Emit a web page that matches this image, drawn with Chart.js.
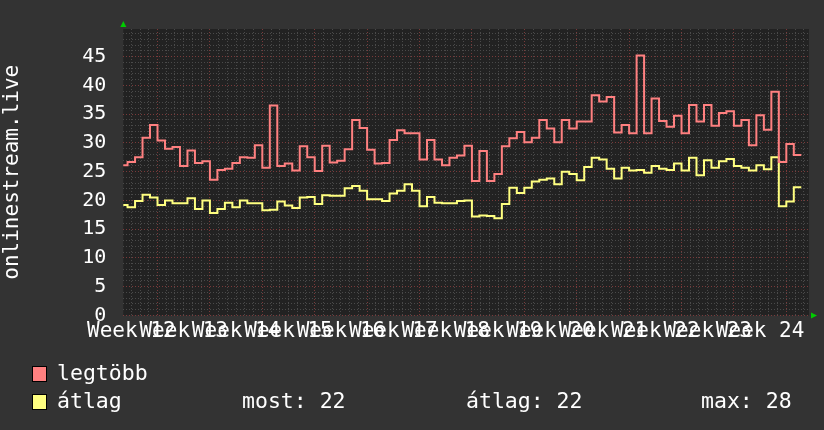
<!DOCTYPE html>
<html>
<head>
<meta charset="utf-8">
<script src="https://cdn.jsdelivr.net/npm/chart.js@4"></script>
<style>
  html, body { margin: 0; padding: 0; background: #333333; }
  canvas { display: block; }
</style>
</head>
<body>
<canvas id="streamChart" width="824" height="430"></canvas>
<script>
// week labels along the x axis (Week 12 starts at day 0)
const weeks = [12, 13, 14, 15, 16, 17, 18, 19, 20, 21, 22, 23, 24];
const firstDay = 2; // day index of the first value below

// daily values
const maxValues = [
  26.1, 26.7, 27.5, 30.9, 33.1, 30.4, 29.0, 29.3, 26.0, 28.7, 26.5, 26.8,
  23.6, 25.3, 25.5, 26.5, 27.5, 27.4, 29.6, 25.7, 36.5, 26.0, 26.4, 25.2,
  29.4, 27.5, 25.1, 29.5, 26.6, 26.9, 28.9, 34.0, 32.6, 28.8, 26.4, 26.5,
  30.5, 32.2, 31.7, 31.7, 27.1, 30.5, 27.1, 26.1, 27.4, 27.8, 29.5, 23.4,
  28.6, 23.4, 24.6, 29.4, 30.8, 31.9, 30.1, 30.9, 34.0, 32.5, 30.1, 34.0,
  32.5, 33.7, 33.7, 38.3, 37.2, 38.0, 31.8, 33.1, 31.7, 45.2, 31.7, 37.7,
  33.8, 32.8, 34.7, 31.7, 36.6, 33.7, 36.6, 33.0, 35.2, 35.5, 33.0, 34.0,
  29.6, 34.8, 32.3, 38.9, 26.7, 29.8, 27.9
];
const avgValues = [
  19.2, 18.8, 19.9, 21.0, 20.5, 19.2, 20.0, 19.5, 19.5, 20.4, 18.5, 20.0,
  17.8, 18.5, 19.6, 18.8, 20.0, 19.5, 19.5, 18.3, 18.4, 19.8, 19.1, 18.7,
  20.5, 20.6, 19.4, 20.9, 20.8, 20.8, 22.1, 22.5, 21.7, 20.2, 20.2, 19.9,
  21.2, 21.7, 22.8, 21.7, 19.0, 20.6, 19.6, 19.5, 19.5, 19.9, 20.0, 17.2,
  17.4, 17.3, 16.9, 19.4, 22.2, 21.3, 22.2, 23.3, 23.6, 23.8, 22.8, 25.0,
  24.6, 23.5, 25.8, 27.4, 27.1, 25.5, 23.8, 25.7, 25.2, 25.3, 24.8, 26.0,
  25.5, 25.3, 26.4, 25.2, 27.4, 24.4, 27.0, 25.7, 26.8, 27.2, 26.0, 25.7,
  25.2, 26.1, 25.4, 27.5, 19.0, 19.8, 22.3
];

const seriesNames = ['legtöbb', 'átlag'];
const statNames = ['most', 'átlag', 'max'];
const statValues = [22, 22, 28];

const FONT = '"DejaVu Sans Mono", monospace';

function toPoints(values) {
  const pts = values.map((v, i) => ({ x: firstDay + i, y: v }));
  pts.push({ x: firstDay + values.length, y: values[values.length - 1] });
  return pts;
}

const bgPlugin = {
  id: 'rrdLook',
  beforeDraw(chart) {
    const { ctx, chartArea: a } = chart;
    ctx.save();
    ctx.fillStyle = '#222222';
    ctx.fillRect(a.left, a.top, a.right - a.left, a.bottom - a.top);
    ctx.restore();
  },
  afterDraw(chart) {
    const { ctx, chartArea: a } = chart;
    ctx.save();
    // green arrows
    ctx.fillStyle = '#00cc00';
    ctx.beginPath();
    ctx.moveTo(a.left - 3, a.top - 2);
    ctx.lineTo(a.left + 3, a.top - 2);
    ctx.lineTo(a.left, a.top - 8);
    ctx.fill();
    ctx.beginPath();
    ctx.moveTo(a.right + 2, a.bottom - 3);
    ctx.lineTo(a.right + 2, a.bottom + 3);
    ctx.lineTo(a.right + 8, a.bottom);
    ctx.fill();

    // legend
    const colors = ['#ff8080', '#ffff80'];
    ctx.font = '21.5px ' + FONT;
    ctx.textBaseline = 'middle';
    seriesNames.forEach((name, i) => {
      const y = 374 + i * 28;
      ctx.fillStyle = colors[i];
      ctx.fillRect(32, y - 8, 15, 16);
      ctx.strokeStyle = '#000000';
      ctx.lineWidth = 1;
      ctx.strokeRect(32.5, y - 7.5, 14, 15);
      ctx.fillStyle = '#ffffff';
      ctx.fillText(name, 57, y);
    });
    const statX = [242, 466, 701];
    statNames.forEach((s, i) => {
      ctx.fillText(s + ': ' + statValues[i], statX[i], 402);
    });
    ctx.restore();
  }
};

const ctx = document.getElementById('streamChart').getContext('2d');

new Chart(ctx, {
  type: 'line',
  data: {
    datasets: [
      {
        label: seriesNames[0],
        data: toPoints(maxValues),
        borderColor: '#ff8080',
        borderWidth: 2,
        stepped: true,
        pointRadius: 0,
        fill: false
      },
      {
        label: seriesNames[1],
        data: toPoints(avgValues),
        borderColor: '#ffff80',
        borderWidth: 2,
        stepped: true,
        pointRadius: 0,
        fill: false
      }
    ]
  },
  options: {
    responsive: false,
    devicePixelRatio: 1,
    animation: false,
    layout: { padding: { top: 14.3, right: 15, bottom: 0, left: 0 } },
    plugins: { legend: { display: false }, tooltip: { enabled: false } },
    scales: {
      x: {
        type: 'linear',
        min: 2.43,
        max: 94.03,
        afterBuildTicks(scale) {
          const t = [];
          for (let i = 0; i <= weeks.length * 6 + 6; i++) {
            const v = i * 7 / 6;
            if (v >= scale.min && v <= scale.max) t.push({ value: v });
          }
          scale.ticks = t;
        },
        afterFit(scale) { scale.height = 114.5; },
        ticks: {
          autoSkip: false,
          maxRotation: 0,
          minRotation: 0,
          padding: 3,
          color: '#ffffff',
          font: { family: FONT, size: 21 },
          callback(value) {
            const i = Math.round(value * 6 / 7);
            if (i % 6 !== 3) return '';
            const w = weeks[(i - 3) / 6];
            return w === undefined ? '' : 'Week ' + w;
          }
        },
        grid: {
          drawTicks: false,
          lineWidth: 1,
          color(c) {
            const i = Math.round(c.tick.value * 6 / 7);
            return i % 6 === 0 ? '#7a3a3a' : '#4a4a4a';
          }
        },
        border: { display: false, dash: [1, 2] }
      },
      y: {
        min: 0,
        max: 49.8,
        afterBuildTicks(scale) {
          const t = [];
          for (let v = 0; v <= 49; v++) t.push({ value: v });
          scale.ticks = t;
        },
        afterFit(scale) { scale.width = 123.3; },
        ticks: {
          autoSkip: false,
          padding: 17,
          color: '#ffffff',
          font: { family: FONT, size: 20 },
          callback(value) { return value % 5 === 0 ? String(value) : ''; }
        },
        grid: {
          drawTicks: false,
          lineWidth: 1,
          color(c) { return c.tick.value % 5 === 0 ? '#7a3a3a' : '#4a4a4a'; }
        },
        border: { display: false, dash: [1, 2] },
        title: {
          display: true,
          text: 'onlinestream.live',
          color: '#ffffff',
          padding: 0,
          font: { family: FONT, size: 21 }
        }
      }
    }
  },
  plugins: [bgPlugin]
});
</script>
</body>
</html>
